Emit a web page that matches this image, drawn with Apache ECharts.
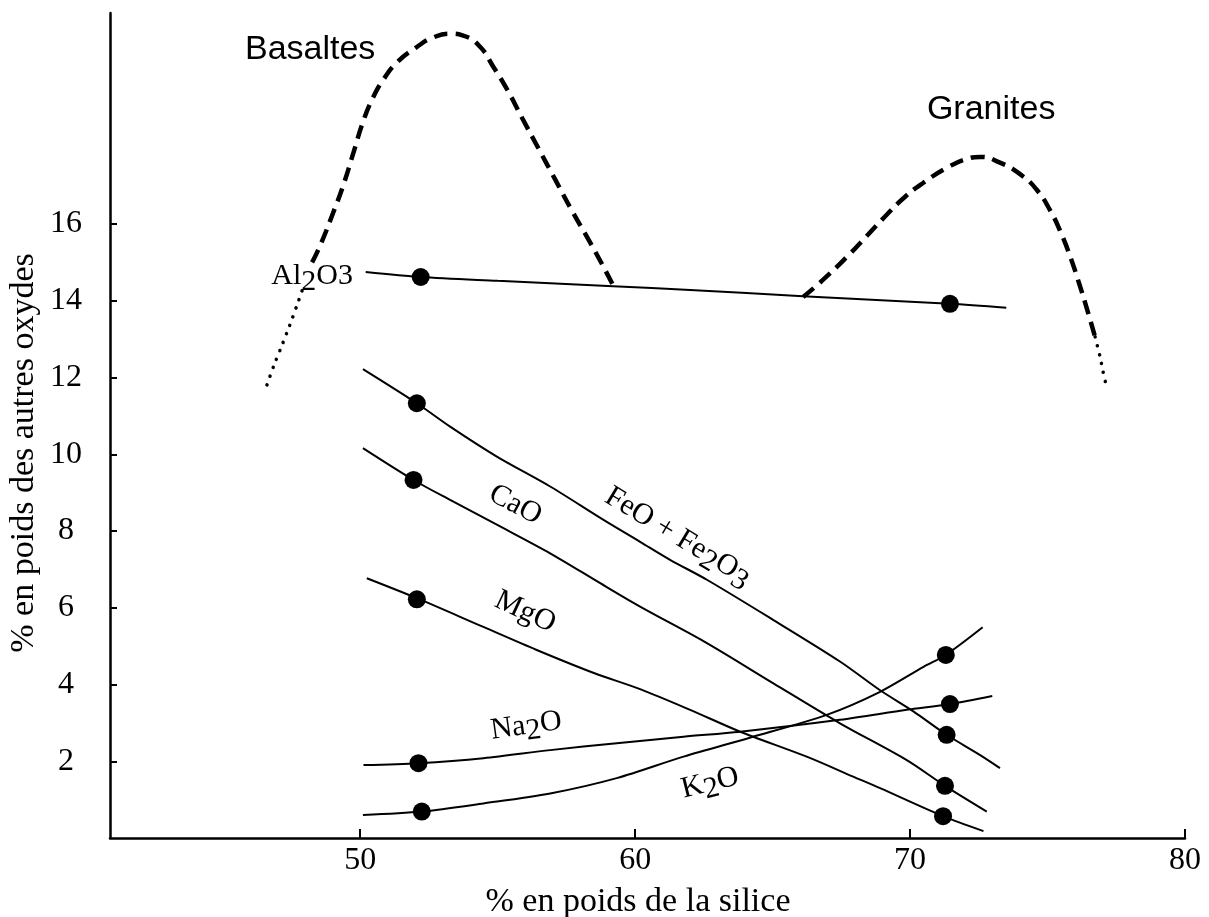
<!DOCTYPE html>
<html>
<head>
<meta charset="utf-8">
<script src="https://cdn.jsdelivr.net/npm/echarts/dist/echarts.min.js"></script>
<style>
  html, body { margin: 0; padding: 0; background: #fff; }
  #chart { width: 1209px; height: 917px; }
</style>
</head>
<body>
<div id="chart"></div>
<script>
// ---------- data ----------
const xTicks = [50, 60, 70, 80];
const yTicks = [2, 4, 6, 8, 10, 12, 14, 16];

const al2o3 = [[50.2,14.75],[52.2,14.62],[55,14.52],[59.2,14.38],[62,14.28],[66.1,14.12],[71.45,13.92],[73.5,13.82]];
const feo = [[50.1,12.22],[52.06,11.33],[53.27,10.72],[54.97,9.94],[56.91,9.16],[58.85,8.29],[60.18,7.72],[61.27,7.25],[62.61,6.73],[65.03,5.68],[67.45,4.6],[68.91,3.85],[70.12,3.3],[71.33,2.69],[72.55,2.16],[73.27,1.82]];
const cao = [[50.1,10.16],[51.94,9.33],[53.27,8.81],[55.09,8.12],[56.91,7.42],[58.73,6.64],[60.18,6.03],[62.61,5.08],[65.03,4.03],[67.45,2.99],[69.88,2.03],[71.27,1.36],[72.79,0.69]];
const mgo = [[50.24,6.77],[52.06,6.25],[54.48,5.5],[56.42,4.9],[58.5,4.3],[60.18,3.88],[62.0,3.34],[63.82,2.77],[66.24,2.12],[67.93,1.6],[68.91,1.3],[71.2,0.57],[72.67,0.18]];
const na2o = [[50.12,1.9],[52.12,1.95],[54.48,2.08],[56.91,2.29],[59.33,2.47],[61.76,2.64],[63.82,2.77],[67.45,3.08],[69.88,3.34],[71.45,3.49],[72.99,3.7]];
const k2o = [[50.1,0.6],[52.24,0.69],[54.48,0.9],[56.91,1.16],[59.33,1.56],[61.76,2.12],[64.2,2.62],[66.97,3.21],[68.91,3.81],[70.49,4.46],[71.3,4.77],[72.64,5.49]];

const samplesBasalt = [[52.2,14.62],[52.06,11.33],[51.94,9.33],[52.06,6.22],[52.12,1.95],[52.24,0.69]];
const samplesGranite = [[71.45,13.92],[71.3,4.77],[71.45,3.49],[71.33,2.69],[71.27,1.36],[71.2,0.57]];

const basaltDotted = [[46.61,11.81],[46.87,12.33],[47.15,12.83],[47.43,13.35],[47.72,13.92],[47.95,14.4]];
const basaltDashed = [[48.25,15.0],[48.55,15.45],[49.02,16.3],[49.38,17.0],[49.75,17.85],[50.11,18.68],[50.47,19.3],[50.84,19.76],[51.35,20.22],[52.07,20.62],[52.65,20.86],[53.27,20.96],[53.75,20.91],[54.36,20.62],[54.84,20.1],[55.35,19.5],[55.9,18.75],[56.5,17.95],[57.1,17.15],[57.7,16.35],[58.3,15.6],[58.8,14.95],[59.2,14.4]];
const graniteDashed = [[66.11,14.1],[66.84,14.55],[67.71,15.15],[68.44,15.7],[69.16,16.25],[69.8,16.7],[70.47,17.07],[71.35,17.47],[72.07,17.7],[72.55,17.75],[73.27,17.6],[74.0,17.3],[74.6,16.9],[75.1,16.35],[75.5,15.75],[75.85,15.1],[76.15,14.45],[76.45,13.75],[76.73,13.06]];
const graniteDotted = [[76.73,13.06],[76.91,12.54],[77.02,12.15],[77.13,11.81]];

const labelTexts = ['Basaltes', 'Granites', 'Al2O3', 'FeO + Fe2O3', 'CaO', 'MgO', 'Na2O', 'K2O'];
const labelAnchors = [[48.18,20.54],[72.95,18.98],[48.25,14.65],[61.56,7.85],[55.64,8.68],[56.0,5.89],[56.04,2.92],[62.73,1.43]];
const labelAngles = [0, 0, 0, -31, -28, -25, 8, 14];
// which digits (by order of appearance) are drawn lowered
const labelLowered = [[], [], [0], [0, 1], [], [], [0], [0]];

const xTitle = '% en poids de la silice';
const yTitle = '% en poids des autres oxydes';

// ---------- chart ----------
const SERIF = '"Liberation Serif", "DejaVu Serif", serif';
const SANS = '"Liberation Sans", Arial, sans-serif';

function richFormula(t, lowered) {
  let d = -1;
  return t.split(/(\d)/).map(p => {
    if (!p) return '';
    if (/^\d$/.test(p)) { d++; return (lowered.indexOf(d) >= 0 ? '{s|' : '{n|') + p + '}'; }
    return '{n|' + p + '}';
  }).join('');
}

const labelData = labelTexts.map((t, i) => {
  const sans = (t === 'Basaltes' || t === 'Granites');
  return {
    value: labelAnchors[i],
    label: {
      rotate: labelAngles[i],
      formatter: sans ? t : richFormula(t, labelLowered[i]),
      fontFamily: sans ? SANS : SERIF,
      fontSize: sans ? 34 : 30
    }
  };
});

const chart = echarts.init(document.getElementById('chart'), null, { renderer: 'canvas' });

const thin = { color: '#000', width: 2, opacity: 1 };
function lineSeries(data, style, smooth) {
  return { type: 'line', data: data, showSymbol: false, smooth: smooth, lineStyle: style, silent: true, z: 2 };
}

chart.setOption({
  backgroundColor: '#fff',
  animation: false,
  grid: { left: 110, right: 24, top: 13, bottom: 79 },
  xAxis: {
    type: 'value', min: 40.9, max: 80,
    axisLine: { show: true, onZero: false, lineStyle: { color: '#000', width: 2.5 } },
    axisTick: { show: true, inside: true, length: 9, lineStyle: { color: '#000', width: 2 }, customValues: xTicks },
    axisLabel: { customValues: xTicks, fontFamily: SERIF, fontSize: 32, color: '#000', margin: 7 },
    splitLine: { show: false }
  },
  yAxis: {
    type: 'value', min: 0, max: 21.5,
    axisLine: { show: true, onZero: false, lineStyle: { color: '#000', width: 2.5 } },
    axisTick: { show: true, inside: true, length: 7, lineStyle: { color: '#000', width: 2 }, customValues: yTicks },
    axisLabel: { customValues: yTicks, fontFamily: SERIF, fontSize: 32, color: '#000', margin: 44, align: 'center' },
    splitLine: { show: false }
  },
  graphic: [
    { type: 'text', x: 638, y: 902, style: { text: xTitle, font: '34px ' + SERIF, fill: '#000', textAlign: 'center', textVerticalAlign: 'middle' } },
    { type: 'text', x: 24, y: 453, rotation: Math.PI / 2, style: { text: yTitle, font: '34px ' + SERIF, fill: '#000', textAlign: 'center', textVerticalAlign: 'middle' } }
  ],
  series: [
    lineSeries(al2o3, thin, 0.3),
    lineSeries(feo, thin, 0.3),
    lineSeries(cao, thin, 0.3),
    lineSeries(mgo, thin, 0.3),
    lineSeries(na2o, thin, 0.3),
    lineSeries(k2o, thin, 0.3),
    lineSeries(basaltDashed, { color: '#000', width: 4.5, type: [14, 8], opacity: 1 }, 0.5),
    lineSeries(graniteDashed, { color: '#000', width: 4.5, type: [14, 8], opacity: 1 }, 0.5),
    lineSeries(basaltDotted, { color: '#000', width: 3.5, type: [0.1, 9], cap: 'round', opacity: 1 }, 0.3),
    lineSeries(graniteDotted, { color: '#000', width: 3.5, type: [0.1, 9], cap: 'round', opacity: 1 }, 0.3),
    { type: 'scatter', data: samplesBasalt.concat(samplesGranite), symbol: 'circle', symbolSize: 18,
      itemStyle: { color: '#000', opacity: 1 }, silent: true, z: 3 },
    { type: 'scatter', data: labelData, symbolSize: 0, silent: true, z: 4,
      itemStyle: { opacity: 1 },
      label: { show: true, position: 'inside', color: '#000', opacity: 1,
        rich: {
          n: { fontFamily: SERIF, fontSize: 30, color: '#000' },
          s: { fontFamily: SERIF, fontSize: 30, color: '#000', padding: [12, 0, 0, 0] }
        } } }
  ]
});
</script>
</body>
</html>
